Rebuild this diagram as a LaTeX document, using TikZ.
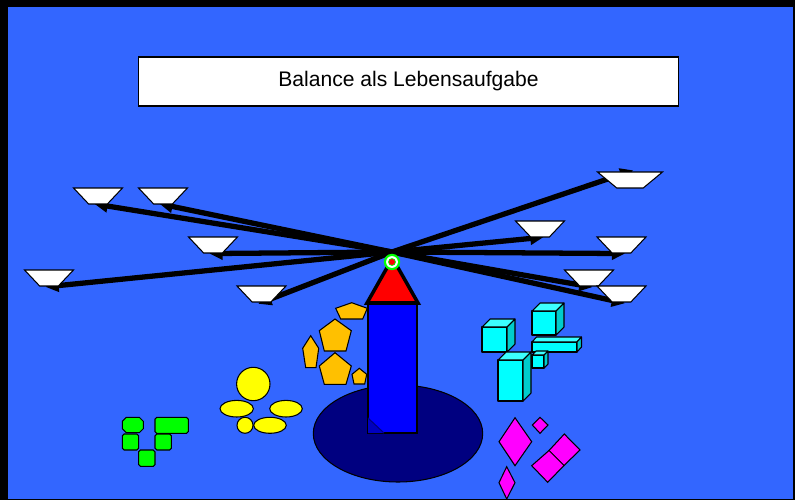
\documentclass[tikz,border=0pt]{standalone}
\usepackage{fontspec}
\setmainfont{Liberation Sans}
\usetikzlibrary{shapes.geometric,arrows.meta}
\pgfdeclarelayer{back}
\pgfdeclarelayer{beams}
\pgfsetlayers{back,beams,main}
\definecolor{bgblue}{RGB}{51,102,255}
\definecolor{navy}{RGB}{0,0,128}
\definecolor{towerblue}{RGB}{0,0,255}
\definecolor{gold}{RGB}{255,192,0}
\definecolor{lemon}{RGB}{255,255,0}
\definecolor{lime}{RGB}{0,255,0}
\definecolor{cubefront}{RGB}{0,255,255}
\definecolor{cubetop}{RGB}{60,255,255}
\definecolor{cubeside}{RGB}{0,204,204}
\definecolor{pink}{RGB}{255,0,255}

\begin{document}
\begin{tikzpicture}[x=0.02cm, y=-0.02cm,
  edged/.style={draw=black, line width=0.6pt},
  pan/.style={trapezium, trapezium stretches=true, shape border rotate=180,
    trapezium left angle=51, trapezium right angle=51,
    minimum width=0.98cm, minimum height=0.32cm, inner sep=1pt,
    fill=white, edged},
  bigpan/.style={pan, trapezium left angle=54, trapezium right angle=54, minimum width=1.3cm},
  beam/.style={line width=3pt, -{Triangle[length=7.5pt,width=7pt]}, shorten >=-2pt},
  cube/.style={edged, line join=round}]
\useasboundingbox (0,0) rectangle (795,500);
\begin{pgfonlayer}{back}
\fill[black] (0,0) rectangle (795,500); % frame
\fill[bgblue] (7.5,7.5) rectangle (792.5,498.5); % backdrop
\end{pgfonlayer}

\node[fill=white, edged, minimum width=10.82cm, minimum height=0.98cm, inner sep=0pt,
  font=\fontsize{12}{14}\selectfont] (title) at (408.5,81.5) {Balance als Lebensaufgabe};

% pans, left side
\node[pan] (p1) at (98,196) {};
\node[pan] (p2) at (163,196) {};
\node[pan] (p3) at (213,245) {};
\node[pan] (p4) at (49,278) {};
\node[pan] (p5) at (261.5,294) {};
% pans, right side
\node[bigpan] (p6) at (630,180) {};
\node[pan] (p7) at (540,229) {};
\node[pan] (p8) at (621.5,245) {};
\node[pan] (p9) at (589,278) {};
\node[pan] (p10) at (621.5,294) {};

\coordinate (hub) at (392,252);
\begin{pgfonlayer}{beams}
\draw[beam] (hub) -- (p1.south);
\draw[beam] (hub) -- (p2.south);
\draw[beam] (hub) -- (p3.south);
\draw[beam] (hub) -- (p4.south);
\draw[beam] (hub) -- (p5.south);
\draw[beam] (hub) -- (p6.north);
\draw[beam] (hub) -- (p7.south);
\draw[beam] (hub) -- (p8.south);
\draw[beam] (hub) -- (p9.south);
\draw[beam] (hub) -- (p10.south);
\end{pgfonlayer}

% stand
\filldraw[fill=navy, edged] (398,433.5) ellipse [x radius=84.7, y radius=48.5]; % base
\filldraw[fill=towerblue, edged] (368,303) rectangle (417,433); % column
\fill[towerblue!75!black] (368,418) -- (384,433) -- (368,433) -- cycle; % shaded corner
\draw[navy, line width=0.6pt] (368,418) -- (384,433);
\filldraw[fill=red, draw=black, line width=2pt] (367,303) -- (392.5,258) -- (418,303) -- cycle; % top
\fill[lime] (392,262) circle [radius=8.2]; % pivot
\fill[white] (392,262) circle [radius=5.9];
\fill[lime] (392,262) circle [radius=3.9];
\fill[red] (392,262) circle [radius=3];

% pentagons
\filldraw[fill=gold, edged] (335.7,308.3) -- (351.7,302.7) -- (367.3,308.3) -- (362.7,319) -- (340.7,319) -- cycle;
\filldraw[fill=gold, edged] (335,319) -- (351.3,330.7) -- (346,351) -- (324.3,351) -- (319.3,330.7) -- cycle;
\filldraw[fill=gold, edged] (310.7,335.7) -- (318.7,348.3) -- (316,367.7) -- (305.7,367.7) -- (302.7,348.3) -- cycle;
\filldraw[fill=gold, edged] (335,352.7) -- (351.3,366) -- (346,384.3) -- (324.3,384.3) -- (319.3,366) -- cycle;
\filldraw[fill=gold, edged] (359.3,368.3) -- (366.7,374.3) -- (364.7,384) -- (354,384) -- (352,374.3) -- cycle;

% ellipses
\filldraw[fill=lemon, edged] (253.3,384) circle [radius=16.7];
\filldraw[fill=lemon, edged] (236.7,408.7) ellipse [x radius=16.7, y radius=8.3];
\filldraw[fill=lemon, edged] (286,408.7) ellipse [x radius=16.3, y radius=8.3];
\filldraw[fill=lemon, edged] (245,425.3) circle [radius=8];
\filldraw[fill=lemon, edged] (270,425.3) ellipse [x radius=16.3, y radius=8];

% blocks
\filldraw[fill=lime, edged] (126.3,417.3) -- (139.3,417.3) -- (143.3,421.3) -- (143.3,428.7) -- (139.3,432.7) -- (126.3,432.7) -- (122.3,428.7) -- (122.3,421.3) -- cycle;
\filldraw[fill=lime, edged, rounded corners=1pt] (122.3,434) rectangle (138.7,450);
\filldraw[fill=lime, edged, rounded corners=1pt] (138.7,450) rectangle (155,466.3);
\filldraw[fill=lime, edged, rounded corners=1pt] (155,417.3) rectangle (188.3,433.3);
\filldraw[fill=lime, edged, rounded corners=1pt] (155,434) rectangle (171.3,450);

% cubes
\filldraw[fill=cubefront, cube] (482,327) rectangle (507,352); % left cube
\filldraw[fill=cubetop, cube] (482,327) -- ++(8,-8) -- ++(25,0) -- ++(-8,8) -- cycle;
\filldraw[fill=cubeside, cube] (507,327) -- ++(8,-8) -- ++(0,25) -- ++(-8,8) -- cycle;
\filldraw[fill=cubefront, cube] (532,311) rectangle (556,335); % upper cube
\filldraw[fill=cubetop, cube] (532,311) -- ++(8,-8) -- ++(24,0) -- ++(-8,8) -- cycle;
\filldraw[fill=cubeside, cube] (556,311) -- ++(8,-8) -- ++(0,24) -- ++(-8,8) -- cycle;
\filldraw[fill=cubefront, cube] (532,342) rectangle (577,352); % long bar
\filldraw[fill=cubetop, cube] (532,342) -- ++(4.5,-5) -- ++(45,0) -- ++(-4.5,5) -- cycle;
\filldraw[fill=cubeside, cube] (577,342) -- ++(4.5,-5) -- ++(0,10) -- ++(-4.5,5) -- cycle;
\filldraw[fill=cubefront, cube] (532,355) rectangle (544,368); % small cube
\filldraw[fill=cubetop, cube] (532,355) -- ++(4,-4) -- ++(12,0) -- ++(-4,4) -- cycle;
\filldraw[fill=cubeside, cube] (544,355) -- ++(4,-4) -- ++(0,13) -- ++(-4,4) -- cycle;
\filldraw[fill=cubefront, cube] (498,360) rectangle (523,401); % tall block
\filldraw[fill=cubetop, cube] (498,360) -- ++(8,-8) -- ++(25,0) -- ++(-8,8) -- cycle;
\filldraw[fill=cubeside, cube] (523,360) -- ++(8,-8) -- ++(0,41) -- ++(-8,8) -- cycle;

% diamonds
\filldraw[fill=pink, edged] (515,417.7) -- (531.7,441.7) -- (515,465.7) -- (499,441.7) -- cycle;
\filldraw[fill=pink, edged] (540,417.3) -- (548,425) -- (540,433.3) -- (532.3,425) -- cycle;
\filldraw[fill=pink, edged] (506.7,466.7) -- (515,482.7) -- (506.7,499) -- (499,482.7) -- cycle;
\filldraw[fill=pink, edged] (564.3,434) -- (580,450) -- (564,465.5) -- (549,450.5) -- cycle;
\filldraw[fill=pink, edged] (549,450.5) -- (564,465.5) -- (547.7,482.3) -- (531.7,465.7) -- cycle;
\end{tikzpicture}
\end{document}
